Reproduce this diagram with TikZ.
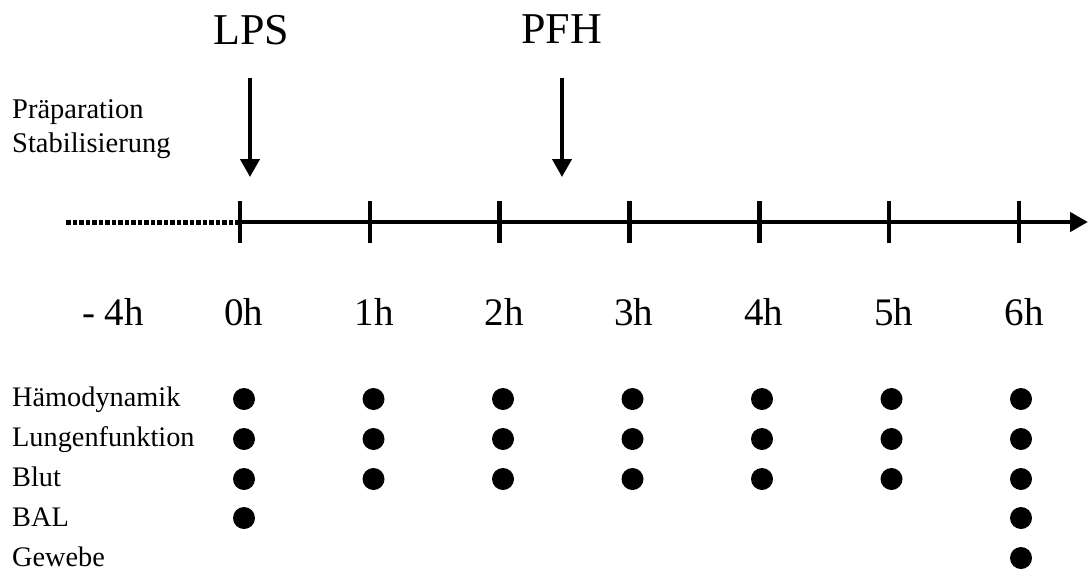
\documentclass[tikz,border=0pt]{standalone}
\usepackage{fontspec}
\setmainfont{Liberation Serif}
\usetikzlibrary{arrows.meta}

\tikzset{
  big/.style={inner sep=0pt, anchor=base, font=\fontsize{44}{50}\selectfont},
  hour/.style={inner sep=0pt, anchor=base, font=\fontsize{39}{44}\selectfont},
  phase/.style={inner sep=0pt, anchor=base west, font=\fontsize{28.5}{34}\selectfont},
  rowlabel/.style={inner sep=0pt, anchor=base west, font=\fontsize{28.3}{32}\selectfont},
  axisline/.style={line width=4.5pt},
  tickmark/.style={line width=4.5pt},
  event/.style={line width=4pt, -{Triangle[length=18pt,width=19pt]}},
  dot/.style={circle, fill=black, inner sep=0pt, minimum size=22pt},
}

\begin{document}
\begin{tikzpicture}[x=1pt, y=-1pt]
  \useasboundingbox (0,0) rectangle (1088,574);

  % time axis
  \coordinate (pre) at (66,222);
  \coordinate (tip) at (1088,222);
  \foreach \i/\x in {0/240, 1/369.8, 2/499.7, 3/629.5, 4/759.3, 5/889.2, 6/1019} {
    \coordinate (t\i) at (\x,222);
    \draw[tickmark] (\x,201) -- (\x,243);
  }
  \draw[line width=5pt, dash pattern=on 4.5pt off 2pt] (pre) -- (t0);
  \draw[axisline, -{Triangle[length=18pt,width=19pt]}] (t0) -- (tip);

  % interventions
  \node[big] (lps) at (251.5,44) {LPS};
  \node[big] (pfh) at (561.5,43) {PFH};
  \coordinate (lpsA) at (250,78);
  \coordinate (lpsB) at (250,177);
  \coordinate (pfhA) at (562,78);
  \coordinate (pfhB) at (562,177);
  \draw[event] (lpsA) -- (lpsB);
  \draw[event] (pfhA) -- (pfhB);

  % phase label
  \node[phase] (prep) at (12,118) {Präparation};
  \node[phase] (stab) at (12,152) {Stabilisierung};

  % hour labels
  \node[hour] (hm4) at (113,325) {- 4h};
  \node[hour] (h0) at (243.5,325) {0h};
  \node[hour] (h1) at (374,325) {1h};
  \node[hour] (h2) at (504,325) {2h};
  \node[hour] (h3) at (633.5,325) {3h};
  \node[hour] (h4) at (763.5,325) {4h};
  \node[hour] (h5) at (893.5,325) {5h};
  \node[hour] (h6) at (1024,325) {6h};

  % measurement rows
  \node[rowlabel] (r1) at (12,406) {Hämodynamik};
  \node[rowlabel] (r2) at (12,446) {Lungenfunktion};
  \node[rowlabel] (r3) at (12,486) {Blut};
  \node[rowlabel] (r4) at (12,526) {BAL};
  \node[rowlabel] (r5) at (12,566) {Gewebe};

  % sampling points
  \foreach \c/\x in {0/244, 1/373.5, 2/503, 3/632.5, 4/762, 5/891.5, 6/1021} {
    \node[dot] (d1\c) at (\x,399) {};
    \node[dot] (d2\c) at (\x,439) {};
    \node[dot] (d3\c) at (\x,479) {};
  }
  \node[dot] (d40) at (244,518) {};
  \node[dot] (d46) at (1021,518) {};
  \node[dot] (d56) at (1021,558) {};
\end{tikzpicture}
\end{document}
